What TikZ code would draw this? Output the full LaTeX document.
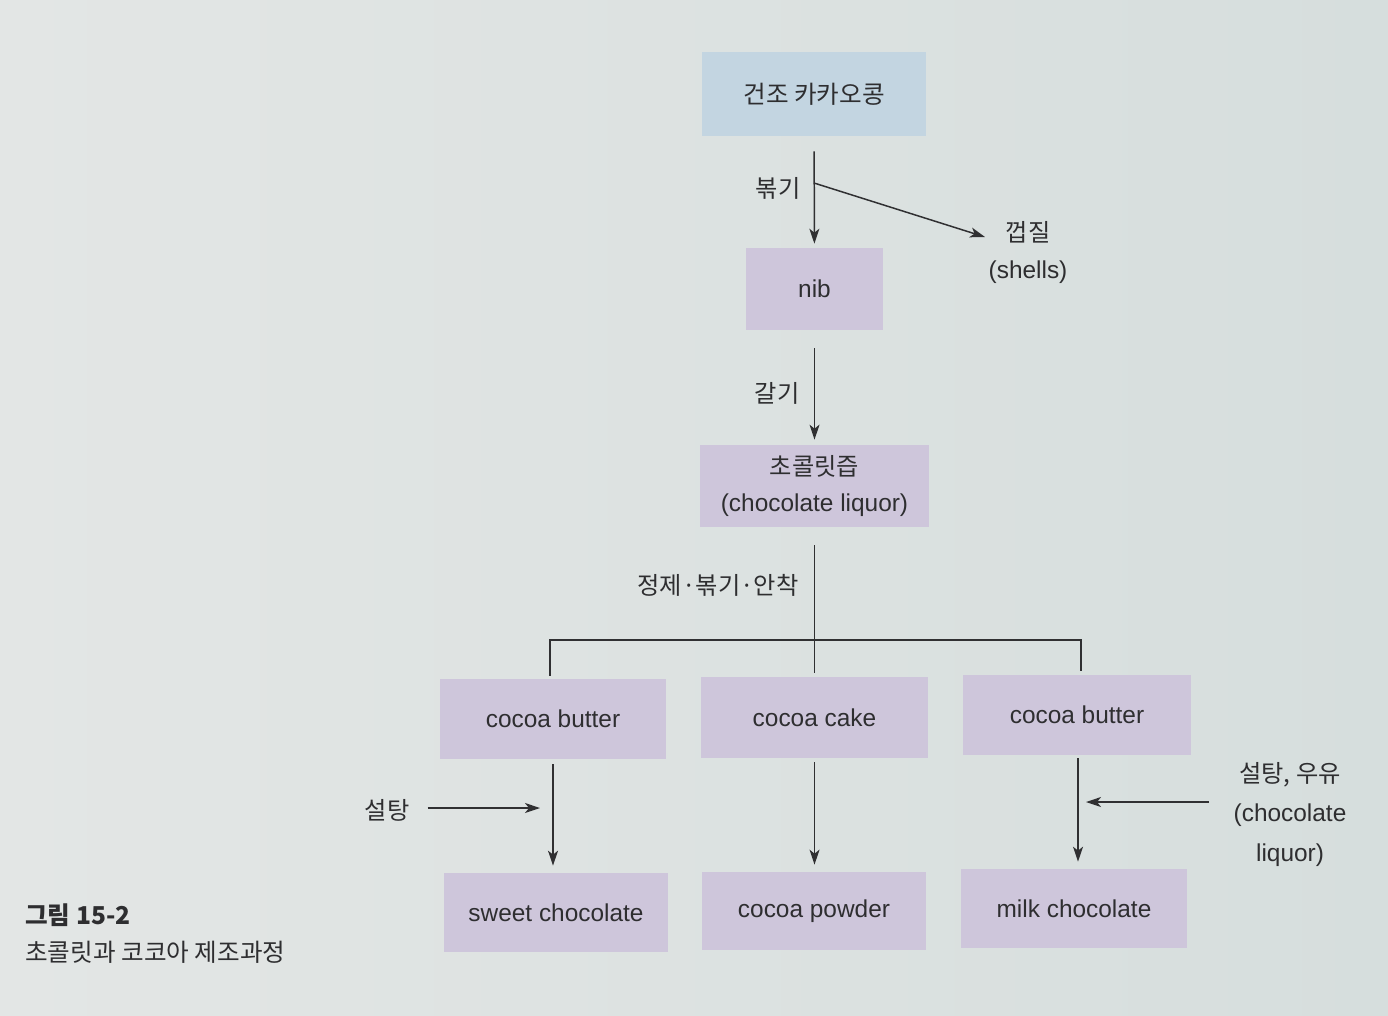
\documentclass[tikz,border=0pt]{standalone}
\usepackage{fontspec}
\setmainfont{Liberation Sans}
\newfontfamily\kr{Noto Sans CJK KR}
\usetikzlibrary{arrows.meta,calc}
\definecolor{bgl}{HTML}{E3E6E5}
\definecolor{bgr}{HTML}{D6DEDD}
\definecolor{bluefill}{HTML}{C3D5E1}
\definecolor{lavfill}{HTML}{CEC6DB}
\definecolor{ink}{HTML}{2E2E30}
\definecolor{linecol}{HTML}{303032}
\tikzset{
  boxbase/.style={inner sep=0pt, align=center, text=ink, font=\fontsize{13.9}{20}\selectfont},
  bluebox/.style={boxbase, fill=bluefill},
  lavbox/.style={boxbase, fill=lavfill},
  krlbl/.style={text=ink, inner sep=0pt, font=\kr\fontsize{13.8}{16}\selectfont},
  enlbl/.style={text=ink, inner sep=0pt, font=\fontsize{13.9}{16}\selectfont},
  arr/.style={draw=linecol, line width=0.85pt, -{Stealth[length=0.3cm,width=0.2cm,inset=0.08cm]}},
  plain/.style={draw=linecol, line width=0.85pt},
  caphead/.style={text=ink, inner sep=0pt, anchor=west, font=\kr\bfseries\fontsize{14}{16}\selectfont},
  captext/.style={text=ink, inner sep=0pt, anchor=west, font=\kr\fontsize{14}{16}\selectfont}
}
\begin{document}
\begin{tikzpicture}[x=0.02cm,y=-0.02cm]
\shade[left color=bgl, right color=bgr] (0,0) rectangle (1388,1015);
\useasboundingbox (0,0) rectangle (1388,1015);

% boxes
\node[bluebox, minimum width=4.48cm, minimum height=1.68cm] (top) at (814,94) {\kr\fontsize{14}{16}\selectfont 건조 카카오콩};
\node[lavbox, minimum width=2.74cm, minimum height=1.64cm] (nib) at (814.5,289) {nib};
\node[lavbox, minimum width=4.58cm, minimum height=1.64cm] (liq) at (814.5,486) {{\kr\fontsize{13.8}{16}\selectfont 초콜릿즙}\\(chocolate liquor)};
\node[lavbox, minimum width=4.52cm, minimum height=1.60cm] (cbl) at (553,719) {cocoa butter};
\node[lavbox, minimum width=4.54cm, minimum height=1.62cm] (cake) at (814.5,717.5) {cocoa cake};
\node[lavbox, minimum width=4.56cm, minimum height=1.60cm] (cbr) at (1077,715) {cocoa butter};
\node[lavbox, minimum width=4.48cm, minimum height=1.58cm] (sweet) at (556,912.5) {sweet chocolate};
\node[lavbox, minimum width=4.48cm, minimum height=1.56cm] (powder) at (814,911) {cocoa powder};
\node[lavbox, minimum width=4.52cm, minimum height=1.58cm] (milk) at (1074,908.5) {milk chocolate};

% labels
\node[krlbl] (roast) at (778,188) {볶기};
\node[krlbl] (shell) at (1028,232) {껍질};
\node[enlbl] (shellen) at (1028,272) {(shells)};
\node[krlbl] (grind) at (777,393) {갈기};
\node[krlbl] (refine) at (718,585) {정제·볶기·안착};
\node[krlbl] (sugar) at (387,810) {설탕};
\node[krlbl] (sugmilk) at (1290,775) {설탕, 우유};
\node[enlbl] (choc) at (1290,815) {(chocolate};
\node[enlbl] (liquor) at (1290,855) {liquor)};

% connectors
\draw[arr, shorten <=0.3cm, shorten >=0.08cm] (top) -- (nib);
\coordinate (br) at (814,183);
\coordinate (brend) at (985,237);
\draw[arr] (br) -- (brend);
\draw[arr, shorten <=0.36cm, shorten >=0.1cm] (nib) -- (liq);
\draw[plain, shorten <=0.36cm, shorten >=0.08cm] (liq) -- (cake);
\coordinate (jl) at (550,640);
\coordinate (jr) at (1081,640);
\draw[plain, shorten <=0.06cm, shorten >=0.08cm] (cbl.north -| jl) -- (jl) -- (jr) -- (cbr.north -| jr);
\draw[arr, shorten <=0.1cm, shorten >=0.14cm] (cbl.south) -- (cbl.south |- sweet.north);
\draw[arr, shorten <=0.08cm, shorten >=0.14cm] (cake) -- (cake.south |- powder.north);
\draw[arr, shorten <=0.06cm, shorten >=0.14cm] (cbr.south -| 1078,0) -- (milk.north -| 1078,0);
\coordinate (sugend) at (540,808);
\draw[arr, shorten <=0.36cm] (sugar.east |- sugend) -- (sugend);
\coordinate (mstart) at (1209,802);
\coordinate (mend) at (1086,802);
\draw[arr] (mstart) -- (mend);

% caption
\node[caphead] (cap1) at (25,915) {그림 15-2};
\node[captext] (cap2) at (25,952) {초콜릿과 코코아 제조과정};
\end{tikzpicture}
\end{document}
